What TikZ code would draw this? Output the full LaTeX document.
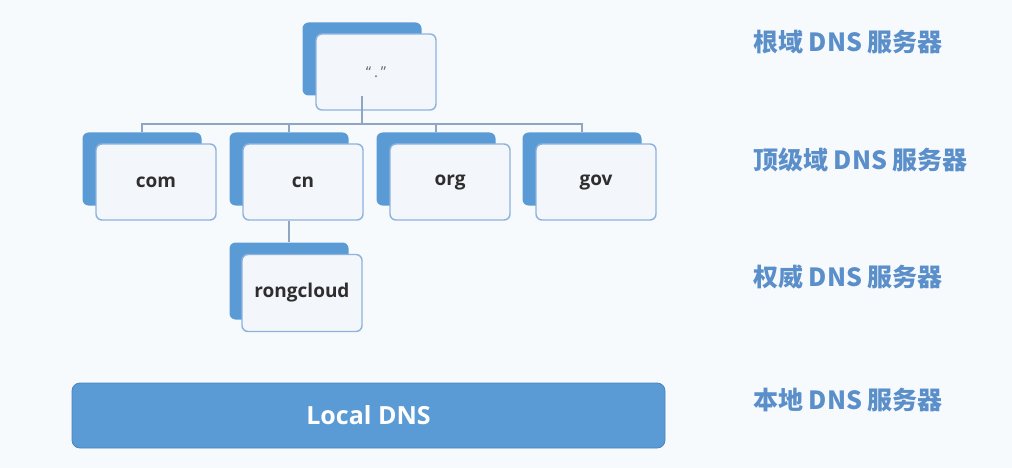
\documentclass[tikz,border=0pt]{standalone}
\usepackage{fontspec}
\setmainfont{Open Sans}
\newfontfamily\cjk{Noto Sans CJK SC}
\begin{document}
\begin{tikzpicture}[x=1pt,y=-1pt,
  backbox/.style={draw=none,fill=bluefill,rounded corners=6pt,minimum width=119pt,minimum height=73pt,inner sep=0pt},
  frontbox/.style={draw=frontline,line width=1.4pt,fill=frontfill,rounded corners=6pt,minimum width=120pt,minimum height=76pt,inner sep=0pt,font=\bfseries\fontsize{19}{21}\selectfont,text=textdark},
  conn/.style={draw=lineclr,line width=1.4pt},
  lvl/.style={anchor=west,inner sep=0pt,text=lblclr,font=\cjk\bfseries\fontsize{25}{27}\selectfont}
]
\definecolor{bluefill}{HTML}{5B9BD5}
\definecolor{frontfill}{HTML}{F3F6FA}
\definecolor{frontline}{HTML}{8DB3DD}
\definecolor{textdark}{HTML}{2E2E2E}
\definecolor{lineclr}{HTML}{8EA6C2}
\definecolor{lblclr}{HTML}{5B8FCA}
\definecolor{bgclr}{HTML}{F7FAFD}
\definecolor{localline}{HTML}{4A84BE}

\fill[bgclr] (0,0) rectangle (1012,468);
\useasboundingbox (0,0) rectangle (1012,468);

% root
\node[backbox] (rootb) at (362,59) {};
\node[frontbox,font=\fontsize{15}{17}\selectfont,text=textdark!70] (rootf) at (376,72) {“\hspace{3pt}.\hspace{3pt}”};

% top-level
\node[backbox] (comb) at (142,169) {};
\node[frontbox] (comf) at (156,182) {com};
\node[backbox] (cnb) at (289,169) {};
\node[frontbox] (cnf) at (303,182) {cn};
\node[backbox] (orgb) at (436,169) {};
\node[frontbox] (orgf) at (450,182) {org};
\node[backbox] (govb) at (582,169) {};
\node[frontbox] (govf) at (596,182) {gov};

% authoritative
\node[backbox,minimum height=77pt] (rongb) at (289,281) {};
\node[frontbox,minimum height=77pt] (rongf) at (302,293) {rongcloud};

% connectors
\coordinate (bus) at (362,124);
\draw[conn] (rootb.south) -- (rootb.south |- bus);
\draw[conn] (comb.north) -- (comb.north |- bus) -- (govb.north |- bus) -- (govb.north);
\draw[conn] (cnb.north) -- (cnb.north |- bus);
\draw[conn] (orgb.north) -- (orgb.north |- bus);
\draw[conn] (rongb.north |- cnf.south) -- (rongb.north);

% local DNS
\node[draw=localline,line width=0.8pt,fill=bluefill,rounded corners=8pt,minimum width=593pt,minimum height=65pt,inner sep=0pt,text=white,font=\bfseries\fontsize{25}{27}\selectfont] (local) at (368.5,415.5) {Local DNS};

% level labels
\node[lvl] (l1) at (753,42) {根域 DNS 服务器};
\node[lvl] (l2) at (753,160) {顶级域 DNS 服务器};
\node[lvl] (l3) at (753,277) {权威 DNS 服务器};
\node[lvl] (l4) at (753,400) {本地 DNS 服务器};
\end{tikzpicture}
\end{document}
